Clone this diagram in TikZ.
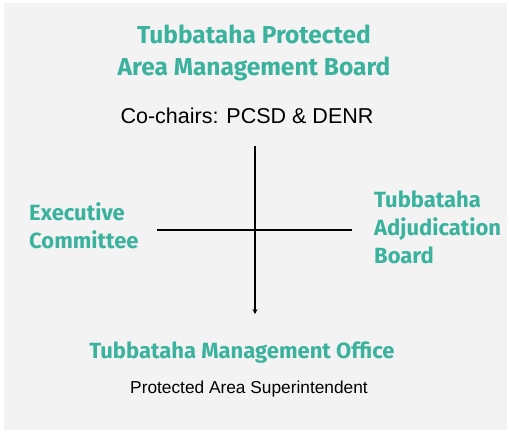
\documentclass[tikz,border=0pt]{standalone}
\usepackage{fontspec}
\setmainfont{Liberation Sans}
\newfontfamily\headfont{Fira Sans}
\usetikzlibrary{arrows.meta}
\definecolor{teal1}{HTML}{3AB29D}
\definecolor{bg}{HTML}{F3F3F3}
\tikzset{
  head/.style={text=teal1, font=\headfont\bfseries\fontsize{22}{28}\selectfont, inner sep=0pt, align=left},
  title/.style={text=teal1, font=\headfont\bfseries\fontsize{24.5}{32}\selectfont, inner sep=0pt, align=center},
  body/.style={text=black, font=\fontsize{21.5}{26}\selectfont, inner sep=0pt},
  small/.style={text=black, font=\fontsize{17.3}{20}\selectfont, inner sep=0pt},
  conn/.style={line width=1.4pt, black}
}
\begin{document}
\begin{tikzpicture}[x=1pt,y=-1pt]
\useasboundingbox (0,0) rectangle (509,432);
\fill[bg] (4,3) rectangle (507,430);
\node[title] (tpamb) at (254,53) {Tubbataha Protected\\Area Management Board};
\node[body] (cochairs) at (247,116) {Co-chairs: PCSD \& DENR};
\node[head, anchor=west] (exec) at (29,226) {Executive\\Committee};
\node[head, anchor=west] (tab) at (374,227) {Tubbataha\\Adjudication\\Board};
\node[head] (tmo) at (242,353) {Tubbataha Management Office};
\node[small] (pas) at (249,389) {Protected Area Superintendent};
\coordinate (vtop) at (255,146);
\coordinate (vbot) at (255,314);
\coordinate (hl) at (157,230);
\coordinate (hr) at (352,230);
\draw[conn, -{Stealth[length=5pt,width=5pt]}] (vtop) -- (vbot);
\draw[conn] (hl) -- (hr);
\end{tikzpicture}
\end{document}
